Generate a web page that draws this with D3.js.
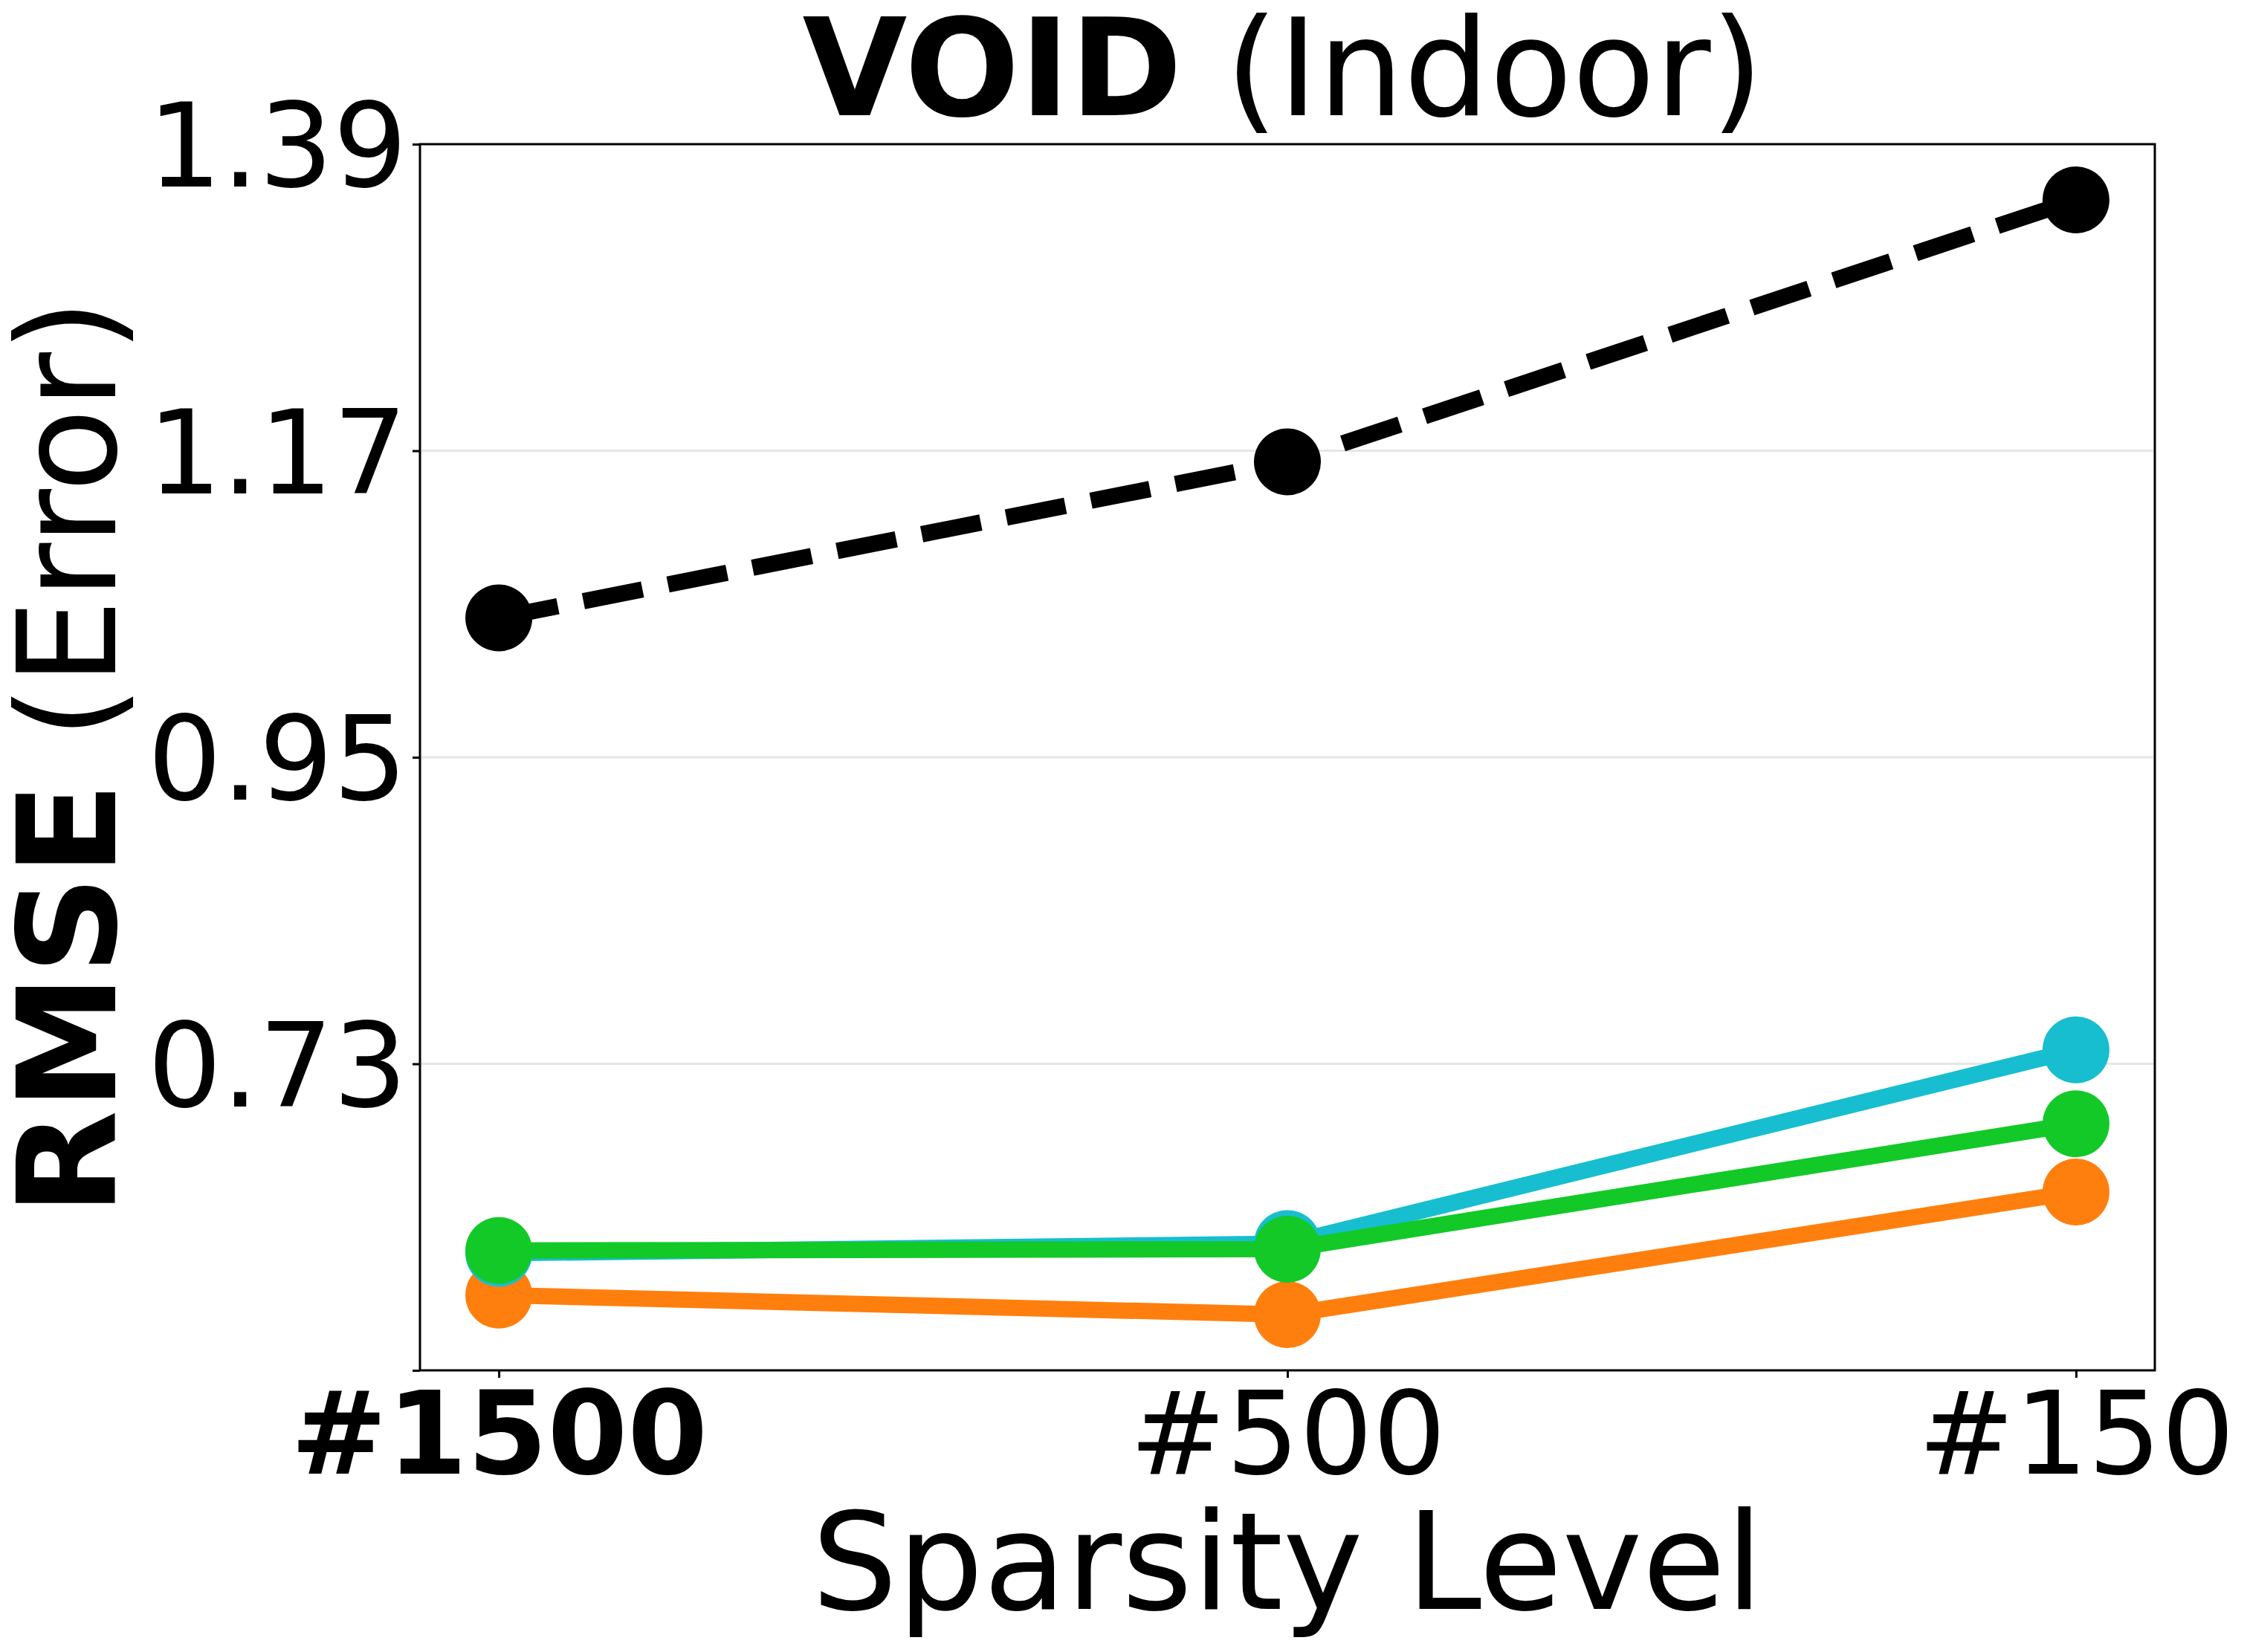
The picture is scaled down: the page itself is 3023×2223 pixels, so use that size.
<!DOCTYPE html>
<html>
<head>
<meta charset="utf-8">
<script src="https://cdn.jsdelivr.net/npm/d3@7"></script>
<style>
  body { margin: 0; background: #fff; }
  text { font-family: "DejaVu Sans", sans-serif; fill: #000; }
</style>
</head>
<body>
<div id="chart"></div>
<script>
// data
const categories = ['#1500', '#500', '#150'];
const yTicks = [0.51, 0.73, 0.95, 1.17, 1.39];
const yTickLabels = ['', '0.73', '0.95', '1.17', '1.39'];

const baseline = [1.05, 1.162, 1.35];   // black dashed
const orangeVals = [0.564, 0.550, 0.638];
const cyanVals = [0.594, 0.601, 0.740];
const greenVals = [0.596, 0.597, 0.687];

const series = [
  {name: 'baseline', values: baseline, color: '#000000', dash: '81,35'},
  {name: 'orange', values: orangeVals, color: '#ff7f0e', dash: null},
  {name: 'cyan', values: cyanVals, color: '#17becf', dash: null},
  {name: 'green', values: greenVals, color: '#12c928', dash: null}
];

const W = 3023, H = 2223;
const margin = {left: 565, right: 3023 - 2899, top: 194, bottom: 2223 - 1844};
const innerW = W - margin.left - margin.right;
const innerH = H - margin.top - margin.bottom;

const svg = d3.select('#chart').append('svg')
  .attr('width', W)
  .attr('height', H);

const g = svg.append('g')
  .attr('transform', `translate(${margin.left},${margin.top})`);

const x = d3.scaleLinear().domain([-0.1, 2.1]).range([0, innerW]);
const y = d3.scaleLinear().domain([0.51, 1.39]).range([innerH, 0]);

// grid
g.append('g')
  .selectAll('line')
  .data(yTicks.slice(1, -1))
  .enter()
  .append('line')
  .attr('x1', 0)
  .attr('x2', innerW)
  .attr('y1', d => y(d))
  .attr('y2', d => y(d))
  .attr('stroke', '#e6e6e6')
  .attr('stroke-width', 3);

// lines + markers
const line = d3.line()
  .x((d, i) => x(i))
  .y(d => y(d));

series.forEach(s => {
  g.append('path')
    .datum(s.values)
    .attr('d', line)
    .attr('fill', 'none')
    .attr('stroke', s.color)
    .attr('stroke-width', 22)
    .attr('stroke-dasharray', s.dash);

  g.append('g')
    .selectAll('circle')
    .data(s.values)
    .enter()
    .append('circle')
    .attr('cx', (d, i) => x(i))
    .attr('cy', d => y(d))
    .attr('r', 45)
    .attr('fill', s.color);
});

// frame
g.append('rect')
  .attr('width', innerW)
  .attr('height', innerH)
  .attr('fill', 'none')
  .attr('stroke', '#000')
  .attr('stroke-width', 3);

// y axis
const yAxis = g.append('g')
  .call(d3.axisLeft(y)
    .tickValues(yTicks)
    .tickFormat((d, i) => yTickLabels[i])
    .tickSize(10)
    .tickPadding(7));
yAxis.select('.domain').remove();
yAxis.selectAll('.tick line').attr('stroke', '#000').attr('stroke-width', 3);
yAxis.selectAll('.tick text')
  .style('font-family', '"DejaVu Sans", sans-serif')
  .style('font-size', '157px')
  .attr('dy', '0.36em');

// x axis
const xAxis = g.append('g')
  .attr('transform', `translate(0,${innerH})`)
  .call(d3.axisBottom(x)
    .tickValues([0, 1, 2])
    .tickFormat(i => categories[i])
    .tickSize(10)
    .tickPadding(0));
xAxis.select('.domain').remove();
xAxis.selectAll('.tick line').attr('stroke', '#000').attr('stroke-width', 3);
xAxis.selectAll('.tick text')
  .style('font-family', '"DejaVu Sans", sans-serif')
  .style('font-size', '155px')
  .style('font-weight', (d, i) => i === 0 ? 'bold' : 'normal')
  .attr('y', 1983 - 1844)
  .attr('dy', 0);

// title
const title = svg.append('text')
  .attr('x', margin.left + innerW / 2 - 6)
  .attr('y', 155)
  .attr('text-anchor', 'middle')
  .style('font-size', '182px');
title.append('tspan').attr('font-weight', 'bold').text('VOID');
title.append('tspan').text(' (Indoor)');

// x label
svg.append('text')
  .attr('x', margin.left + innerW / 2)
  .attr('y', 2165)
  .attr('text-anchor', 'middle')
  .style('font-size', '182px')
  .text('Sparsity Level');

// y label
const ylab = svg.append('text')
  .attr('transform', `translate(155,${margin.top + innerH / 2}) rotate(-90)`)
  .attr('text-anchor', 'middle')
  .style('font-size', '184px');
ylab.append('tspan').attr('font-weight', 'bold').text('RMSE');
ylab.append('tspan').text(' (Error)');
</script>
</body>
</html>
